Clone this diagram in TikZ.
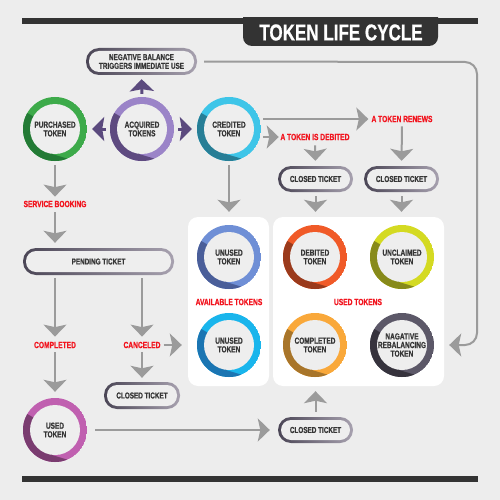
\documentclass[tikz,border=0pt]{standalone}
\usepackage{fontspec}
\setmainfont{Liberation Sans}
\newfontfamily\cond{Liberation Sans}[FakeStretch=0.74,FakeBold=0.7]
\usetikzlibrary{arrows.meta}
\definecolor{bg}{HTML}{EDEDED}
\definecolor{darkbar}{HTML}{333333}
\definecolor{arrgray}{HTML}{9B9B9B}
\definecolor{purp}{HTML}{5B4A7E}
\definecolor{redlab}{HTML}{F2141E}
\definecolor{txt}{HTML}{363636}
\definecolor{innerc}{HTML}{EEEEEE}
\definecolor{pillD}{HTML}{4B4656}
\definecolor{pillL}{HTML}{A7A1AF}
\definecolor{greenL}{HTML}{3DAA4A}\definecolor{greenD}{HTML}{237A35}
\definecolor{violL}{HTML}{9B84C8}\definecolor{violD}{HTML}{5E4A80}
\definecolor{cyanL}{HTML}{3EC5E8}\definecolor{cyanD}{HTML}{277E96}
\definecolor{blueL}{HTML}{6F8FD6}\definecolor{blueD}{HTML}{4A5E99}
\definecolor{orL}{HTML}{F05A28}\definecolor{orD}{HTML}{9A3A1C}
\definecolor{limeL}{HTML}{D4DA22}\definecolor{limeD}{HTML}{878A1A}
\definecolor{skyL}{HTML}{19B5EC}\definecolor{skyD}{HTML}{1B75B2}
\definecolor{yelL}{HTML}{F9A83A}\definecolor{yelD}{HTML}{A8752A}
\definecolor{greyL}{HTML}{5C5868}\definecolor{greyD}{HTML}{36333D}
\definecolor{magL}{HTML}{C060B0}\definecolor{magD}{HTML}{7A3C70}
\tikzset{
  garrow/.style={draw=arrgray, line width=2pt, -{Stealth[length=12pt,width=23pt,inset=2.5pt]}},
  parrow/.style={draw=purp, line width=3pt, -{Stealth[length=12pt,width=24pt,inset=2pt]}},
  redtxt/.style={text=redlab, font=\cond\bfseries\fontsize{9}{9.5}\selectfont, inner sep=0pt},
  tok/.style={circle, minimum size=64pt, inner sep=0pt, align=center, text=txt,
    font=\cond\bfseries\fontsize{8.8}{8.6}\selectfont},
  panel/.style={fill=white, rounded corners=10pt, inner sep=0pt},
  pill/.style={rounded corners=13pt, left color=pillD, right color=pillL, inner sep=0pt,
    align=center, text=txt, font=\cond\bfseries\fontsize{8.6}{8.7}\selectfont,
    path picture={\fill[innerc, rounded corners=10pt]
      ([shift={(3pt,3pt)}]path picture bounding box.south west) rectangle
      ([shift={(-3pt,-3pt)}]path picture bounding box.north east);}},
  titletxt/.style={text=white, inner sep=0pt, font=\cond\bfseries\fontsize{23}{24}\selectfont},
  loopline/.style={draw=arrgray, line width=2pt, rounded corners=12pt,
    -{Stealth[length=12pt,width=23pt,inset=2.5pt]}}
}
\newcommand\tokring[6]{%
  \begin{scope}
    \clip (#2,#3) circle[radius=32];
    \fill[#4] (#2,#3) circle[radius=32];
    \fill[#5] (#2,#3) -- ++(-45,-26) -- ++(-15,86) -- ++(100,-22) -- ++(-43,-13) -- cycle;
  \end{scope}
  \fill[innerc] (#2,#3) circle[radius=25];
  \node[tok] (#1) at (#2,#3) {#6};
}
\begin{document}
\begin{tikzpicture}[x=1pt,y=-1pt]
\fill[bg] (0,0) rectangle (500,500);
\useasboundingbox (0,0) rectangle (500,500);
% title bars
\fill[darkbar] (22,18) rectangle (478,24);
\begin{scope}
  \clip (0,18) rectangle (500,60);
  \fill[darkbar, rounded corners=9pt] (243,0) rectangle (438,46);
\end{scope}
\node[titletxt] (title) at (341,32.5) {TOKEN LIFE CYCLE};
\fill[darkbar] (22,476) rectangle (478,482);
% panels
\node[panel, minimum width=81pt, minimum height=169pt] (availp) at (228.5,301.5) {};
\node[panel, minimum width=171pt, minimum height=169pt] (usedp) at (358.5,301.5) {};
% tokens
\tokring{purch}{55}{129}{greenL}{greenD}{PURCHASED\\TOKEN}
\tokring{acq}{142}{129}{violL}{violD}{ACQUIRED\\TOKENS}
\tokring{cred}{229}{129}{cyanL}{cyanD}{CREDITED\\TOKEN}
\tokring{unused1}{229}{257}{blueL}{blueD}{UNUSED\\TOKEN}
\tokring{debt}{315}{257}{orL}{orD}{DEBITED\\TOKEN}
\tokring{unclaim}{402}{257}{limeL}{limeD}{UNCLAIMED\\TOKEN}
\tokring{unused2}{229}{345}{skyL}{skyD}{UNUSED\\TOKEN}
\tokring{compl}{315}{345}{yelL}{yelD}{COMPLETED\\TOKEN}
\tokring{nag}{402}{345}{greyL}{greyD}{NAGATIVE\\REBALANCING\\TOKEN}
\tokring{usedtok}{55}{430}{magL}{magD}{USED\\TOKEN}
% pills
\node[pill, minimum width=111pt, minimum height=27pt] (negbal) at (141.5,61.5) {NEGATIVE BALANCE\\TRIGGERS IMMEDIATE USE};
\node[pill, minimum width=151pt, minimum height=27pt] (pend) at (98.5,261.5) {PENDING TICKET};
\node[pill, minimum width=75pt, minimum height=26pt] (ct1) at (315.5,179) {CLOSED TICKET};
\node[pill, minimum width=75pt, minimum height=26pt] (ct2) at (401.5,179) {CLOSED TICKET};
\node[pill, minimum width=76pt, minimum height=27pt] (ct3) at (142,395.5) {CLOSED TICKET};
\node[pill, minimum width=75pt, minimum height=26pt] (ct4) at (315.5,430) {CLOSED TICKET};
% red labels
\node[redtxt] (svc) at (55,204) {SERVICE BOOKING};
\node[redtxt] (lcompl) at (55,345) {COMPLETED};
\node[redtxt] (lcanc) at (142,345) {CANCELED};
\node[redtxt] (ldeb) at (315,137) {A TOKEN IS DEBITED};
\node[redtxt] (lren) at (402,119) {A TOKEN RENEWS};
\node[redtxt] (lavail) at (229,302) {AVAILABLE TOKENS};
\node[redtxt] (lused) at (358,302) {USED TOKENS};
% purple arrows
\draw[parrow, shorten <=3pt, shorten >=4pt] (acq.north) -- (negbal.south);
\draw[parrow, shorten <=4pt, shorten >=5pt] (acq.west) -- (purch.east);
\draw[parrow, shorten <=4pt, shorten >=5pt] (acq.east) -- (cred.west);
% grey arrows
\draw[garrow, shorten <=4pt, shorten >=4pt] (purch.south) -- (svc.north);
\draw[garrow, shorten <=5pt, shorten >=5pt] (svc.south) -- (pend.north -| svc.south);
\draw[garrow, shorten <=3pt, shorten >=5pt] (pend.south -| lcompl.north) -- (lcompl.north);
\draw[garrow, shorten <=4pt, shorten >=6pt] (lcompl.south) -- (usedtok.north);
\draw[garrow, shorten <=3pt, shorten >=5pt] (pend.south -| lcanc.north) -- (lcanc.north);
\draw[garrow, shorten <=3pt, shorten >=6pt] (lcanc.east) -- (lcanc.east -| availp.west);
\draw[garrow, shorten <=4pt, shorten >=4pt] (lcanc.south) -- (ct3.north);
\draw[garrow, shorten <=4pt, shorten >=5pt] (cred.south) -- (cred.south |- availp.north);
\draw[garrow, shorten <=2pt, shorten >=3pt] (cred.east |- lren.west) -- (lren.west);
\draw[garrow, shorten <=2pt, shorten >=1.5pt] (cred.east |- ldeb.west) -- (ldeb.west);
\draw[garrow, shorten <=5pt, shorten >=5pt] (ldeb.south) -- (ct1.north);
\draw[garrow, shorten <=4pt, shorten >=5pt] (lren.south) -- (ct2.north);
\draw[garrow, shorten <=4pt, shorten >=5pt] (ct1.south) -- (ct1.south |- usedp.north);
\draw[garrow, shorten <=4pt, shorten >=5pt] (ct2.south) -- (ct2.south |- usedp.north);
\draw[garrow, shorten <=8pt, shorten >=8pt] (usedtok.east) -- (ct4.west);
\draw[garrow, shorten <=5pt, shorten >=5pt] (ct4.north) -- (ct4.north |- usedp.south);
% loop
\coordinate (loopA) at (477,62);
\coordinate (loopB) at (477,345);
\draw[loopline, shorten <=7pt, shorten >=5pt] (negbal.east) -- (loopA) -- (loopB) -- (usedp.east |- nag.east);
\end{tikzpicture}
\end{document}
